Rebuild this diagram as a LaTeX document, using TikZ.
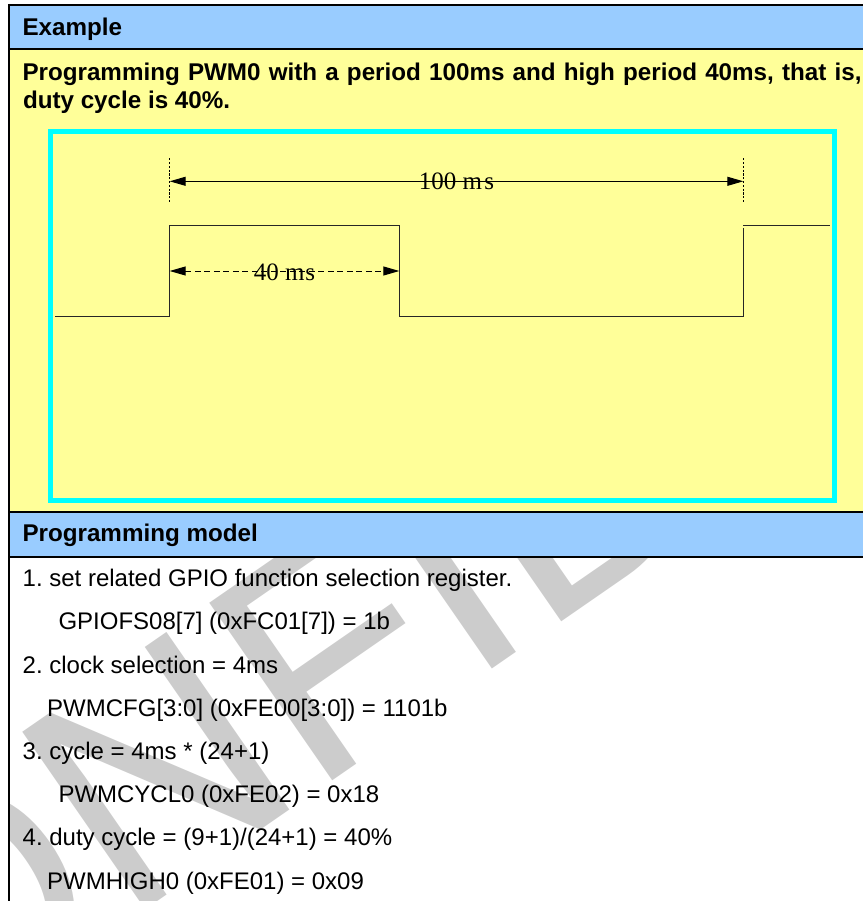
\documentclass[tikz,border=0pt]{standalone}
\usepackage{fontspec}
\setmainfont{Liberation Sans}
\newfontfamily\wfserif{Liberation Serif}
\usetikzlibrary{arrows.meta}
\definecolor{hdrblue}{HTML}{99CCFF}
\definecolor{bodyyellow}{HTML}{FFFF99}
\definecolor{boxcyan}{HTML}{00FFFF}
\definecolor{wmgray}{HTML}{CCCCCC}
\frenchspacing
\begin{document}
\begin{tikzpicture}[x=1pt,y=-1pt,
  tablerule/.style={line width=2pt,black},
  boldtxt/.style={inner sep=0pt,anchor=base west,font=\fontsize{24.2}{28}\selectfont\bfseries\frenchspacing},
  plaintxt/.style={inner sep=0pt,anchor=base west,font=\fontsize{24}{28}\selectfont\frenchspacing},
  wavetxt/.style={inner sep=0pt,anchor=base,font=\wfserif\fontsize{25}{28}\selectfont},
  wave/.style={line width=1pt,black!85},
  marker/.style={line width=0.9pt,dash pattern=on 2.2pt off 1.6pt},
  dimline/.style={line width=1pt,{Triangle[length=16pt,width=9pt]}-{Triangle[length=16pt,width=9pt]}},
  dimdash/.style={dimline,dash pattern=on 6pt off 3.5pt},
  watermark/.style={inner sep=0pt,anchor=base west,rotate=34.7,text=wmgray,font=\fontsize{314}{314}\selectfont}]
\useasboundingbox (0,0) rectangle (863,901);
% watermark, seen only in the white cell
\begin{scope}
\clip (10,558) rectangle (863,901);
\node[watermark] (wm) at (-262.5,1192.3) {CONFIDENTIAL};
\end{scope}
% cell fills
\fill[hdrblue] (9,5) rectangle (863,49.3);
\fill[bodyyellow] (9,49.3) rectangle (863,512);
\fill[hdrblue] (9,512) rectangle (863,557);
% table rules
\draw[tablerule] (8,5) -- (863,5);
\draw[tablerule] (9,49.3) -- (863,49.3);
\draw[tablerule] (9,512) -- (863,512);
\draw[tablerule] (9,557) -- (863,557);
\draw[tablerule] (9,4) -- (9,901);
% texts of the example cell
\node[boldtxt] (exhdr) at (22.3,35.4) {Example};
\node[boldtxt] (intro1) at (22.3,81) {\hbox to 839pt{Programming PWM0 with a period 100ms and high period 40ms, that is,}};
\node[boldtxt] (intro2) at (22.8,109) {duty cycle is 40\%.};
% cyan frame
\draw[boxcyan,line width=4.8pt] (50.8,131.6) rectangle (834.3,500.5);
% waveform
\coordinate (w0) at (55,316);
\coordinate (w1) at (169.7,316);
\coordinate (w2) at (169.7,226);
\coordinate (w3) at (399.3,226);
\coordinate (w4) at (399.3,316);
\coordinate (w5) at (743.3,316);
\coordinate (w6) at (743.3,228.5);
\coordinate (w7) at (743.3,226);
\coordinate (w8) at (830,226);
\draw[wave] (w0) -- (w1) -- (w2) -- (w3) -- (w4) -- (w5) -- (w6);
\draw[wave] (w7) -- (w8);
% period markers
\coordinate (mLt) at (169.7,158.3);
\coordinate (mLb) at (169.7,203);
\coordinate (mRt) at (743.3,158.3);
\coordinate (mRb) at (743.3,203);
\draw[marker] (mLt) -- (mLb);
\draw[marker] (mRt) -- (mRb);
\coordinate (pL) at (169.7,181.3);
\coordinate (pR) at (743.3,181.3);
\draw[dimline] (pL) -- (pR);
\node[wavetxt] (lab100) at (456.5,190) {100 m\kern2.5pt s};
\coordinate (hL) at (169.7,271);
\coordinate (hR) at (399.3,271);
\draw[dimdash] (hL) -- (hR);
\node[wavetxt] (lab40) at (284.5,280) {40 m\kern1pt s};
% programming model
\node[boldtxt] (pmhdr) at (22.3,541.7) {Programming model};
\node[plaintxt] (s1) at (22.5,586.7) {1. set related GPIO function selection register.};
\node[plaintxt] (s1a) at (58.3,629.9) {GPIOFS08[7] (0xFC01[7]) = 1b};
\node[plaintxt] (s2) at (22.5,673.1) {2. clock selection = 4ms};
\node[plaintxt] (s2a) at (47,716.3) {PWMCFG[3:0] (0xFE00[3:0]) = 1101b};
\node[plaintxt] (s3) at (22.5,759.5) {3. cycle = 4ms * (24+1)};
\node[plaintxt] (s3a) at (58.3,802.7) {PWMCYCL0 (0xFE02) = 0x18};
\node[plaintxt] (s4) at (22.5,845.9) {4. duty cycle = (9+1)/(24+1) = 40\%};
\node[plaintxt] (s4a) at (47,889.1) {PWMHIGH0 (0xFE01) = 0x09};
\end{tikzpicture}
\end{document}
